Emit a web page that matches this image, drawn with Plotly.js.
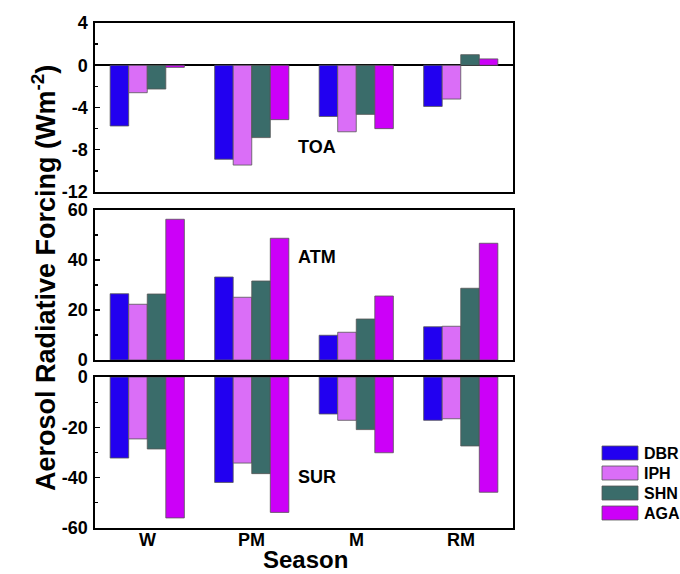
<!DOCTYPE html>
<html>
<head>
<meta charset="utf-8">
<script src="https://cdn.plot.ly/plotly-3.0.1.min.js"></script>
<style>html,body{margin:0;padding:0;background:#fff;}#chart{width:680px;height:574px;}</style>
</head>
<body>
<div id="chart"></div>
<script>
// ---- data ----
const seasons = ["W", "PM", "M", "RM"];
const sites = ["DBR", "IPH", "SHN", "AGA"];
const siteColors = ["#2200F0", "#DA6EF7", "#3A6C6A", "#CC00F8"];
const panelNames = ["TOA", "ATM", "SUR"];

const toaDBR = [-5.75, -8.9, -4.85, -3.9];
const toaIPH = [-2.6, -9.45, -6.3, -3.2];
const toaSHN = [-2.25, -6.85, -4.65, 1.0];
const toaAGA = [-0.2, -5.15, -6.0, 0.6];

const atmDBR = [26.5, 33.2, 9.9, 13.3];
const atmIPH = [22.3, 25.1, 11.1, 13.5];
const atmSHN = [26.4, 31.6, 16.4, 28.7];
const atmAGA = [56.3, 48.7, 25.6, 46.7];

const surDBR = [-32.2, -41.9, -14.7, -17.2];
const surIPH = [-24.6, -34.2, -17.2, -16.6];
const surSHN = [-28.6, -38.4, -20.9, -27.4];
const surAGA = [-56.0, -53.8, -30.1, -45.8];

const toaTicks = [-12, -8, -4, 0, 4];
const atmTicks = [0, 20, 40, 60];
const surTicks = [-60, -40, -20, 0];

const panels = [
  [toaDBR, toaIPH, toaSHN, toaAGA],
  [atmDBR, atmIPH, atmSHN, atmAGA],
  [surDBR, surIPH, surSHN, surAGA]
];

// ---- layout helpers ----
const W = 680, H = 574;
const px = v => v / W;
const py = v => 1 - v / H;
const FONT = "Liberation Sans, Arial, sans-serif";
const hyph = arr => arr.map(v => String(v).replace("\u2212", "-"));

const axisKeys = [["x3", "y"], ["x2", "y2"], ["x", "y3"]];
const traces = [];
panels.forEach((series, p) => {
  series.forEach((vals, s) => {
    traces.push({
      type: "bar",
      x: seasons,
      y: vals,
      name: sites[s],
      showlegend: false,
      xaxis: axisKeys[p][0],
      yaxis: axisKeys[p][1],
      marker: { color: siteColors[s], line: { color: "#555", width: 0.8 } },
      hoverinfo: "x+y+name"
    });
  });
});

const xl = px(95), xr = px(513);
const baseX = {
  domain: [xl, xr],
  showline: true, mirror: true, linecolor: "#000", linewidth: 1.6,
  ticks: "", showgrid: false, zeroline: false, showticklabels: false,
  automargin: false, fixedrange: true
};
const baseY = {
  showline: true, mirror: true, linecolor: "#000", linewidth: 1.6,
  ticks: "inside", ticklen: 5, tickwidth: 1.3, tickcolor: "#000",
  showgrid: false, ticklabelstandoff: 2,
  tickfont: { family: FONT, size: 18, weight: "bold", color: "#000" },
  automargin: false, fixedrange: true
};

const layout = {
  width: W, height: H,
  margin: { l: 0, r: 0, t: 0, b: 0 },
  paper_bgcolor: "#fff", plot_bgcolor: "#fff",
  barmode: "group", bargap: 0.29, bargroupgap: 0,
  showlegend: false,
  font: { family: FONT, color: "#000" },
  xaxis: Object.assign({}, baseX, { anchor: "y3" }),
  xaxis2: Object.assign({}, baseX, { anchor: "y2", matches: "x" }),
  xaxis3: Object.assign({}, baseX, { anchor: "y", matches: "x" }),
  yaxis: Object.assign({}, baseY, {
    domain: [py(192), py(23)], anchor: "x3", range: [-12, 4],
    tickvals: toaTicks, ticktext: hyph(toaTicks),
    minor: { tickvals: [-10, -6, -2, 2], ticks: "inside", ticklen: 3, tickcolor: "#000" },
    zeroline: true, zerolinecolor: "#000", zerolinewidth: 1.8
  }),
  yaxis2: Object.assign({}, baseY, {
    domain: [py(360), py(210)], anchor: "x2", range: [0, 60],
    tickvals: atmTicks, ticktext: hyph(atmTicks),
    minor: { tickvals: [10, 30, 50], ticks: "inside", ticklen: 3, tickcolor: "#000" },
    zeroline: false
  }),
  yaxis3: Object.assign({}, baseY, {
    domain: [py(528), py(377)], anchor: "x", range: [-60, 0],
    tickvals: surTicks, ticktext: hyph(surTicks),
    minor: { tickvals: [-50, -30, -10], ticks: "inside", ticklen: 3, tickcolor: "#000" },
    zeroline: false
  }),
  annotations: [],
  shapes: []
};

// season (category) labels below bottom panel
seasons.forEach(s => {
  layout.annotations.push({
    xref: "x", yref: "paper", x: s, y: py(540),
    xanchor: "center", yanchor: "middle",
    text: "<b>" + s + "</b>", showarrow: false,
    font: { family: FONT, size: 18, color: "#000" }
  });
});

// panel labels
const panelLabelY = [147, 257, 477];
panelNames.forEach((n, i) => {
  layout.annotations.push({
    xref: "paper", yref: "paper", x: px(317), y: py(panelLabelY[i]),
    xanchor: "center", yanchor: "middle",
    text: "<b>" + n + "</b>", showarrow: false,
    font: { family: FONT, size: 18, color: "#000" }
  });
});

// axis titles
layout.annotations.push({
  xref: "paper", yref: "paper", x: px(44), y: py(278),
  xanchor: "center", yanchor: "middle",
  text: "<b>Aerosol Radiative Forcing (Wm<sup>-2</sup>)</b>", showarrow: false,
  textangle: -90, font: { family: FONT, size: 27, color: "#000" }
});
layout.annotations.push({
  xref: "paper", yref: "paper", x: px(305), y: py(559),
  xanchor: "center", yanchor: "middle",
  text: "<b>Season</b>", showarrow: false,
  font: { family: FONT, size: 24, color: "#000" }
});

// custom legend
const legRows = [453, 473, 493, 513];
sites.forEach((s, i) => {
  layout.shapes.push({
    type: "rect", xref: "paper", yref: "paper",
    x0: px(602), x1: px(638), y0: py(legRows[i] + 7), y1: py(legRows[i] - 7),
    fillcolor: siteColors[i], line: { color: "#555", width: 0.8 }
  });
  layout.annotations.push({
    xref: "paper", yref: "paper", x: px(642), y: py(legRows[i]),
    xanchor: "left", yanchor: "middle", text: "<b>" + s + "</b>", showarrow: false,
    font: { family: FONT, size: 16, color: "#000" }
  });
});

Plotly.newPlot("chart", traces, layout, { displayModeBar: false, staticPlot: true });
</script>
</body>
</html>
